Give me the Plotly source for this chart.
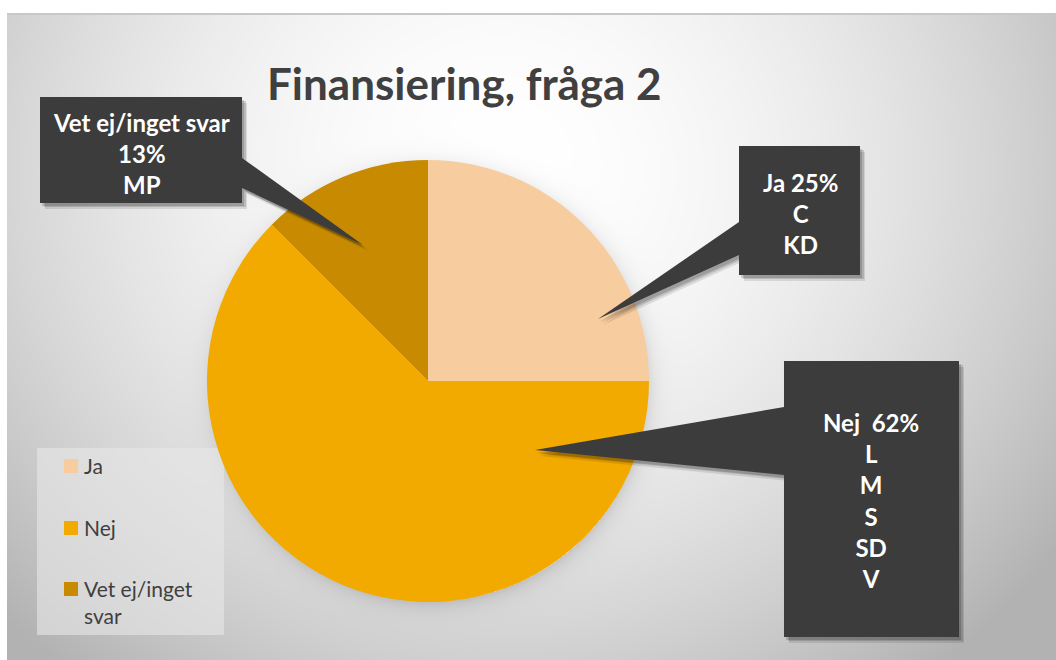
import base64
import struct
import zlib

import numpy as np
import plotly.graph_objects as go

W, H = 1056, 660

# ---------------- data ----------------
title = "Finansiering, fråga 2"
labels = ["Ja", "Nej", "Vet ej/inget svar"]
legend_labels = ["Ja", "Nej", "Vet ej/inget<br>svar"]
values = [2, 5, 1]                    # number of parties per answer
pct_shown = [25, 62, 13]              # percentages as printed on the callouts
parties = [["C", "KD"], ["L", "M", "S", "SD", "V"], ["MP"]]
colors = ["#F7CC9F", "#F2A900", "#C88A00"]


# ---------------- helpers ----------------
def px(x):
    return x / W


def py(y):
    return 1 - y / H


def png_data_uri(rgb):
    h, w, c = rgb.shape
    ctype = 2 if c == 3 else 6
    flat = rgb.astype(np.int16).reshape(h, w * c)
    filt = flat.copy()
    filt[:, c:] = (flat[:, c:] - flat[:, :-c]) % 256
    rows = np.hstack([np.ones((h, 1), dtype=np.int16), filt]).astype(np.uint8)
    data = zlib.compress(rows.tobytes(), 9)

    def chunk(tag, payload):
        return (struct.pack(">I", len(payload)) + tag + payload
                + struct.pack(">I", zlib.crc32(tag + payload) & 0xFFFFFFFF))

    png = (b"\x89PNG\r\n\x1a\n"
           + chunk(b"IHDR", struct.pack(">IIBBBBB", w, h, 8, ctype, 0, 0, 0))
           + chunk(b"IDAT", data) + chunk(b"IEND", b""))
    return "data:image/png;base64," + base64.b64encode(png).decode()


# ---------------- background (radial gradient + pie shadow) ----------------
yy, xx = np.mgrid[0:H, 0:W].astype(float)
cx, cy = 500.0, 170.0
t = np.sqrt(((xx - cx) / 600.0) ** 2 + ((yy - cy) / 560.0) ** 2)
t = np.clip(t, 0, 1.15)
val = 255 - 60 * t ** 1.8
# soft shadow around the pie
pcx, pcy, pr = 428.0, 381.0, 221.0
rr = np.sqrt((xx - pcx - 2) ** 2 + (yy - pcy - 3) ** 2)
shadow = np.where(rr > pr - 4, 28 * np.exp(-np.clip(rr - pr + 4, 0, None) / 9.0), 0)
val = val - shadow
val = np.clip(val, 0, 255)
bg = np.repeat(val[:, :, None], 3, axis=2)
# white page border (top and left strips)
bg[:13, :, :] = 255
bg[:, :7, :] = 255
bg[13:15, 7:, :] = np.minimum(bg[13:15, 7:, :], 200)
bg_uri = png_data_uri(np.round(bg).astype(np.uint8))

# ---------------- figure ----------------
fig = go.Figure(
    go.Pie(
        labels=labels,
        values=values,
        marker=dict(colors=colors, line=dict(width=0)),
        sort=False,
        direction="clockwise",
        rotation=0,
        textinfo="none",
        hoverinfo="label+percent",
        showlegend=False,
        domain=dict(x=[px(pcx - pr), px(pcx + pr)], y=[py(pcy + pr), py(pcy - pr)]),
    )
)

shapes = []
annotations = []

# title
annotations.append(dict(
    text=title, x=px(464), y=py(83), xref="paper", yref="paper",
    xanchor="center", yanchor="middle", showarrow=False,
    font=dict(family="Lato", size=44, color="#404040", weight="bold"),
))

# callouts: (box x0, y0, x1, y1), pointer (base points on box, tip)
callouts = [
    dict(box=(739, 146, 860, 275), base=((739, 222), (739, 255)), tip=(598, 319),
         text=f"{labels[0]} {pct_shown[0]}%<br>" + "<br>".join(parties[0]),
         tc=(800, 213)),
    dict(box=(784, 361, 959, 637), base=((784, 407), (784, 475)), tip=(535, 450),
         text=f"{labels[1]}\u00a0 {pct_shown[1]}%<br>" + "<br>".join(parties[1]),
         tc=(871, 500)),
    dict(box=(40, 97, 242, 203), base=((242, 158), (242, 188)), tip=(363, 245),
         text=f"{labels[2]}<br>{pct_shown[2]}%<br>" + "<br>".join(parties[2]),
         tc=(141, 153)),
]


def callout_path(c, dx=0, dy=0):
    x0, y0, x1, y1 = c["box"]
    (bx1, by1), (bx2, by2) = c["base"]
    tx, ty = c["tip"]
    if bx1 == x0:  # pointer on left side
        pts = [(x0, y0), (x1, y0), (x1, y1), (x0, y1), (bx2, by2), (tx, ty), (bx1, by1)]
    else:          # pointer on right side
        pts = [(x0, y0), (x1, y0), (bx1, by1), (tx, ty), (bx2, by2), (x1, y1), (x0, y1)]
    return "M " + " L ".join(f"{px(x + dx):.5f},{py(y + dy):.5f}" for x, y in pts) + " Z"


for c in callouts:
    for (ox, oy, a) in [(5, 6, 0.10), (4, 4, 0.14), (2, 3, 0.16)]:
        shapes.append(dict(type="path", path=callout_path(c, ox, oy), xref="paper", yref="paper",
                           fillcolor=f"rgba(0,0,0,{a})", line=dict(width=0), layer="above"))
    shapes.append(dict(type="path", path=callout_path(c), xref="paper", yref="paper",
                       fillcolor="#3c3c3c", line=dict(width=0), layer="above"))
    annotations.append(dict(
        text=c["text"], x=px(c["tc"][0]), y=py(c["tc"][1]), xref="paper", yref="paper",
        xanchor="center", yanchor="middle", align="center", showarrow=False,
        font=dict(family="Lato", size=24, color="#FFFFFF", weight="bold"),
    ))

# legend (manual, one entry per slice)
shapes.append(dict(type="rect", xref="paper", yref="paper",
                   x0=px(37), x1=px(224), y0=py(635), y1=py(448),
                   fillcolor="rgba(232,232,232,0.6)", line=dict(width=0), layer="below"))
leg_y = [466, 528, 589]
for lab, col, ly in zip(legend_labels, colors, leg_y):
    shapes.append(dict(type="rect", xref="paper", yref="paper",
                       x0=px(64), x1=px(78), y0=py(ly + 7), y1=py(ly - 7),
                       fillcolor=col, line=dict(width=0), layer="above"))
    annotations.append(dict(
        text=lab, x=px(82), y=py(ly - 15), xref="paper", yref="paper",
        xanchor="left", yanchor="top", align="left", showarrow=False,
        font=dict(family="Lato", size=21, color="#404040"),
    ))

fig.update_layout(
    width=W, height=H, autosize=False,
    margin=dict(l=0, r=0, t=0, b=0, pad=0),
    paper_bgcolor="#ffffff", plot_bgcolor="#ffffff",
    shapes=shapes, annotations=annotations,
    images=[dict(source=bg_uri, xref="paper", yref="paper", x=0, y=1,
                 sizex=1, sizey=1, xanchor="left", yanchor="top",
                 sizing="stretch", layer="below")],
)

fig.write_html("out.html", post_script="document.body.style.margin='0';",
               config={"displayModeBar": False})
